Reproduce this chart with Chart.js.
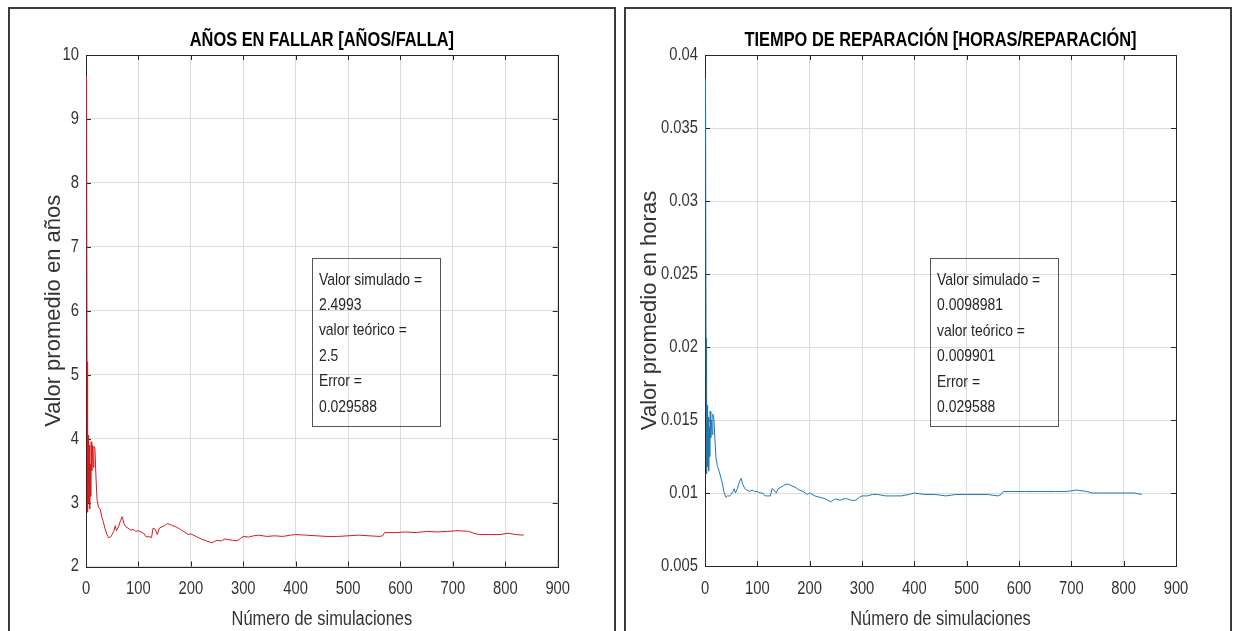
<!DOCTYPE html>
<html lang="es">
<head>
<meta charset="UTF-8">
<title>Promedios de simulación</title>
<script src="https://cdn.jsdelivr.net/npm/chart.js"></script>
<style>
    body { margin: 0; background: #fff; width: 1235px; height: 631px; overflow: hidden; position: relative; }
    canvas { position: absolute; top: 0; }
    #grafAnos { left: 0; }
    #grafHoras { left: 620px; }
    .marco { position: absolute; top: 7px; width: 608px; height: 640px; border: 2px solid #3c3c3c; box-sizing: border-box; pointer-events: none; }
</style>
</head>
<body>
<canvas id="grafAnos" width="620" height="631"></canvas>
<canvas id="grafHoras" width="615" height="631"></canvas>
<div class="marco" style="left:8px"></div>
<div class="marco" style="left:624px"></div>

<script>
// numero de simulacion (muestras)
const simX = [1, 2, 3, 4, 5, 6, 7, 8, 9, 10, 11, 12, 14, 15, 17, 19, 21, 24, 27, 30,
    33, 36, 40, 43, 47, 50, 53, 56, 58, 62, 66, 69, 72, 76, 80, 85, 90, 95, 100, 105,
    110, 115, 120, 125, 128, 132, 136, 140, 145, 150, 155, 160, 165, 172, 180, 188, 195, 200, 210, 220,
    230, 240, 245, 250, 258, 265, 272, 280, 288, 295, 300, 310, 320, 330, 345, 360, 375, 390, 400, 420,
    440, 460, 480, 500, 520, 540, 560, 566, 570, 590, 610, 630, 650, 670, 690, 710, 730, 740, 750, 770,
    790, 805, 820, 835];

// promedio de años en fallar
const anosVals = [9.67, 5.2, 2.85, 4.05, 3.0, 3.9, 2.9, 3.6, 3.1, 3.95, 3.5, 3.9, 3.55, 3.88, 3.85, 3.4, 3.05, 2.92, 2.9, 2.78,
    2.7, 2.6, 2.5, 2.45, 2.46, 2.5, 2.55, 2.64, 2.56, 2.62, 2.72, 2.78, 2.68, 2.62, 2.6, 2.57, 2.58, 2.55, 2.56, 2.54,
    2.52, 2.46, 2.47, 2.45, 2.6, 2.58, 2.5, 2.6, 2.62, 2.64, 2.67, 2.66, 2.64, 2.62, 2.58, 2.54, 2.5, 2.51, 2.47, 2.43,
    2.4, 2.37, 2.39, 2.41, 2.4, 2.43, 2.42, 2.41, 2.4, 2.44, 2.47, 2.46, 2.48, 2.49, 2.47, 2.48, 2.47, 2.49, 2.5, 2.49,
    2.48, 2.47, 2.47, 2.48, 2.49, 2.48, 2.47, 2.48, 2.53, 2.53, 2.54, 2.53, 2.55, 2.54, 2.55, 2.56, 2.55, 2.52, 2.5, 2.5,
    2.5, 2.52, 2.5, 2.49];

// promedio de horas de reparacion
const horasVals = [0.0384, 0.0206, 0.0113, 0.016, 0.0118, 0.0152, 0.0115, 0.0145, 0.0125, 0.0156, 0.0138, 0.015, 0.014, 0.0154, 0.0151, 0.0136, 0.0124, 0.0118, 0.0115, 0.0111,
    0.0107, 0.0101, 0.0097, 0.0098, 0.0098, 0.0099, 0.0101, 0.0103, 0.0100, 0.0103, 0.0108, 0.0110, 0.0106, 0.0103, 0.0102, 0.0101, 0.0102, 0.0101, 0.0101, 0.0100,
    0.0100, 0.0098, 0.0098, 0.0098, 0.0103, 0.0102, 0.0100, 0.0103, 0.0104, 0.0105, 0.0106, 0.0106, 0.0105, 0.0104, 0.0102, 0.0101, 0.0099, 0.0100, 0.0098, 0.0097,
    0.0096, 0.0094, 0.0095, 0.0096, 0.0095, 0.0096, 0.0096, 0.0095, 0.0095, 0.0097, 0.0098, 0.0098, 0.0099, 0.0099, 0.0098, 0.0098, 0.0098, 0.0099, 0.0100, 0.0099,
    0.0099, 0.0098, 0.0099, 0.0099, 0.0099, 0.0099, 0.0098, 0.0099, 0.0101, 0.0101, 0.0101, 0.0101, 0.0101, 0.0101, 0.0101, 0.0102, 0.0101, 0.0100, 0.0100, 0.0100,
    0.0100, 0.0100, 0.0100, 0.0099];

const xTicks = [0, 100, 200, 300, 400, 500, 600, 700, 800, 900];
const yTicksAnos = [2, 3, 4, 5, 6, 7, 8, 9, 10];
const yTicksHoras = [0.005, 0.01, 0.015, 0.02, 0.025, 0.03, 0.035, 0.04];

const textoAnos = ['Valor simulado =', '2.4993', 'valor teórico =', '2.5', 'Error =', '0.029588'];
const textoHoras = ['Valor simulado =', '0.0098981', 'valor teórico =', '0.009901', 'Error =', '0.029588'];

// "Estrecha" no existe: sirve de marca para comprimir el texto horizontalmente
const ANGOSTA = 'Estrecha, "Liberation Sans", Arial, sans-serif';
const NORMAL = '"Liberation Sans", Arial, sans-serif';

// letra angosta: se escala en x el texto cuya fuente lleva la marca
const estrecho = {
    id: 'estrecho',
    beforeInit(chart) {
        const ctx = chart.ctx;
        const orig = ctx.fillText.bind(ctx);
        ctx.fillText = function (t, x, y, mw) {
            if (ctx.font.indexOf('Estrecha') < 0) {
                return mw === undefined ? orig(t, x, y) : orig(t, x, y, mw);
            }
            ctx.save();
            ctx.translate(x, y);
            ctx.scale(0.82, 1);
            if (mw === undefined) orig(t, 0, 0); else orig(t, 0, 0, mw / 0.82);
            ctx.restore();
        };
    }
};

// marco tipo matlab: caja y marcas hacia adentro (debajo de la curva), cuadro de texto encima
const marcoMatlab = {
    id: 'marcoMatlab',
    beforeDatasetsDraw(chart) {
        const { ctx, chartArea: a, scales: { x, y } } = chart;
        ctx.save();
        ctx.strokeStyle = '#262626';
        ctx.lineWidth = 1;
        ctx.beginPath();
        x.ticks.forEach(t => {
            const px = Math.round(x.getPixelForValue(t.value)) + 0.5;
            ctx.moveTo(px, a.bottom); ctx.lineTo(px, a.bottom - 5);
            ctx.moveTo(px, a.top); ctx.lineTo(px, a.top + 5);
        });
        y.ticks.forEach(t => {
            const py = Math.round(y.getPixelForValue(t.value)) + 0.5;
            ctx.moveTo(a.left, py); ctx.lineTo(a.left + 5, py);
            ctx.moveTo(a.right, py); ctx.lineTo(a.right - 5, py);
        });
        ctx.stroke();
        ctx.strokeRect(Math.round(a.left) + 0.5, Math.round(a.top) + 0.5,
            Math.round(a.right - a.left), Math.round(a.bottom - a.top));
        ctx.restore();
    },
    afterDatasetsDraw(chart, args, opts) {
        const { ctx, scales: { x, y } } = chart;
        const c = opts.caja;
        const x0 = x.getPixelForValue(c.x0), x1 = x.getPixelForValue(c.x1);
        const y0 = y.getPixelForValue(c.y0), y1 = y.getPixelForValue(c.y1);
        ctx.save();
        ctx.strokeStyle = '#555';
        ctx.lineWidth = 1;
        ctx.strokeRect(Math.round(x0) + 0.5, Math.round(y0) + 0.5, Math.round(x1 - x0), Math.round(y1 - y0));
        ctx.fillStyle = '#262626';
        ctx.font = '17px ' + ANGOSTA;
        ctx.textAlign = 'left';
        ctx.textBaseline = 'alphabetic';
        opts.lineas.forEach((t, i) => ctx.fillText(t, x0 + 7, y0 + 27 + i * 25.4));
        ctx.restore();
    }
};

function crearGrafico(id, titulo, etiquetaY, valores, color, yTicks, yMin, yMax, dims, caja, lineas) {
    return new Chart(document.getElementById(id), {
        type: 'line',
        data: {
            datasets: [{
                data: simX.map((v, i) => ({ x: v, y: valores[i] })),
                borderColor: color,
                borderWidth: 1,
                pointRadius: 0,
                tension: 0,
                fill: false
            }]
        },
        options: {
            responsive: false,
            animation: false,
            layout: { padding: { left: 0, right: dims.derecha, top: 0, bottom: 0 } },
            plugins: {
                legend: { display: false },
                tooltip: { enabled: false },
                title: {
                    display: true,
                    text: titulo,
                    fullSize: false,
                    color: '#000',
                    font: { family: ANGOSTA, size: 20, weight: 'bold' },
                    padding: { top: 28, bottom: 3 }
                },
                marcoMatlab: { caja: caja, lineas: lineas }
            },
            scales: {
                x: {
                    type: 'linear',
                    min: 0,
                    max: 900,
                    afterBuildTicks: s => { s.ticks = xTicks.map(v => ({ value: v })); },
                    afterFit: s => { s.height = dims.abajo; },
                    grid: { color: '#dcdcdc', drawTicks: false },
                    border: { display: false },
                    ticks: { color: '#333', padding: 12, maxRotation: 0, autoSkip: false, font: { family: ANGOSTA, size: 18 } },
                    title: { display: true, text: 'Número de simulaciones', color: '#333', padding: 0, font: { family: ANGOSTA, size: 20 } }
                },
                y: {
                    min: yMin,
                    max: yMax,
                    afterBuildTicks: s => { s.ticks = yTicks.map(v => ({ value: v })); },
                    afterFit: s => { s.width = dims.ancho; },
                    grid: { color: '#dcdcdc', drawTicks: false },
                    border: { display: false },
                    ticks: {
                        color: '#333', padding: 7, autoSkip: false, font: { family: ANGOSTA, size: 18 },
                        callback: v => String(+Number(v).toFixed(3))
                    },
                    title: { display: true, text: etiquetaY, color: '#333', padding: { top: dims.tituloY, bottom: 0 }, font: { family: NORMAL, size: 22 } }
                }
            }
        },
        plugins: [estrecho, marcoMatlab]
    });
}

crearGrafico('grafAnos', 'AÑOS EN FALLAR [AÑOS/FALLA]', 'Valor promedio en años', anosVals, 'rgb(210,30,30)',
    yTicksAnos, 2, 10, { derecha: 62.3, abajo: 64.5, ancho: 86, tituloY: 41 },
    { x0: 431, x1: 676, y0: 6.83, y1: 4.2 }, textoAnos);

crearGrafico('grafHoras', 'TIEMPO DE REPARACIÓN [HORAS/REPARACIÓN]', 'Valor promedio en horas', horasVals, '#1f78b4',
    yTicksHoras, 0.005, 0.04, { derecha: 59, abajo: 65, ancho: 85, tituloY: 17 },
    { x0: 430, x1: 674, y0: 0.0261, y1: 0.0146 }, textoHoras);
</script>
</body>
</html>
